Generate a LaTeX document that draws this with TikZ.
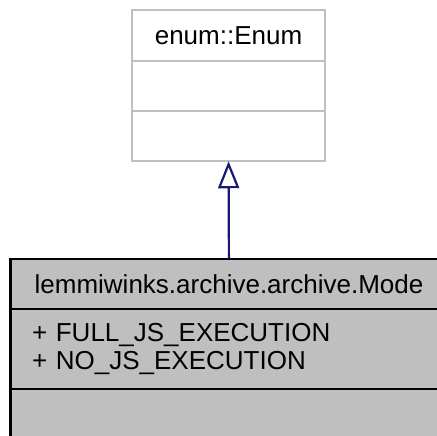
\documentclass[tikz,border=0pt]{standalone}
\usepackage{fontspec}
\setmainfont{Liberation Sans}
\usetikzlibrary{arrows.meta,positioning}
\definecolor{dxgray}{HTML}{BFBFBF}
\definecolor{dxnavy}{HTML}{191970}

\begin{document}
\begin{tikzpicture}[
x=1pt,y=1pt,
node distance=0pt,
part/.style={rectangle,inner sep=0pt,outer sep=0pt,line width=2.2pt,
font=\fontsize{26}{28.5}\selectfont},
base/.style={part,draw=dxgray,fill=white,minimum width=193pt,
minimum height=50.3pt},
cls/.style={part,draw=black,fill=dxgray,minimum width=437pt,
minimum height=50.5pt},
inh/.style={draw=dxnavy,line width=2.2pt,
-{Triangle[length=27pt,width=21pt,fill=white]}}
]
\useasboundingbox (0,0) rectangle (437,-436);
\clip (0,0) rectangle (437,-436);
% base class
\node[base] (en) at (228.5,-35.5) {enum::Enum};
\node[base,below=of en]     (enattr) {};
\node[base,below=of enattr] (enops)  {};
% derived class
\node[cls] (md) at (229,-284) {lemmiwinks.archive.archive.Mode};
\node[cls,below=of md,minimum height=80pt,align=left,text width=394pt,
inner xsep=21.5pt] (mdattr) {+ FULL\_JS\_EXECUTION\\+ NO\_JS\_EXECUTION};
\node[cls,below=of mdattr]  (mdops)  {};
\draw[inh] (md) -- (enops);
\end{tikzpicture}
\end{document}
